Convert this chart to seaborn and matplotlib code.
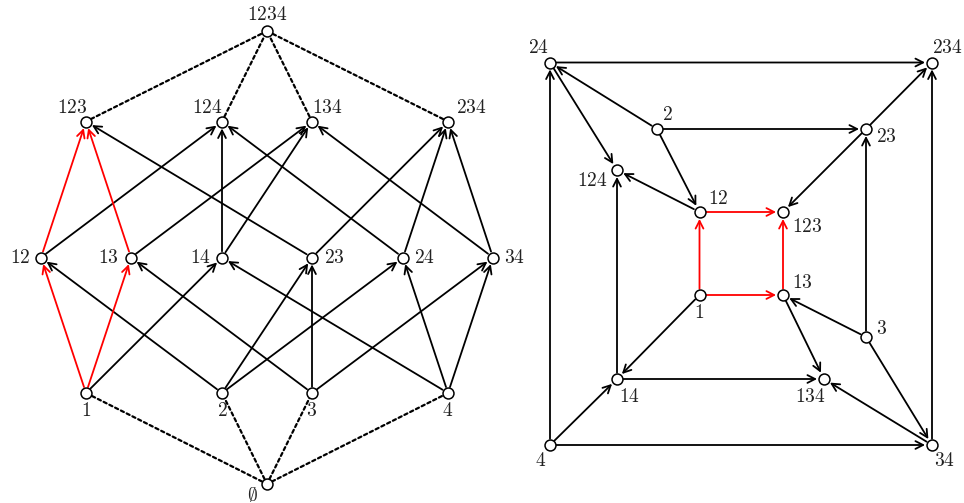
import pandas as pd
import seaborn as sns
import matplotlib.pyplot as plt

# Panel izquierdo: diagrama de Hasse de los subconjuntos de {1,2,3,4}
left_names = ['1234', '123', '124', '134', '234',
              '12', '13', '14', '23', '24', '34',
              '1', '2', '3', '4', 'empty']
left_x = [267, 86, 222, 312, 448,
          41, 131, 222, 312, 403, 493,
          86, 222, 312, 448, 267]
left_y = [31, 121.5, 121.5, 121.5, 121.5,
          257.5, 257.5, 257.5, 257.5, 257.5, 257.5,
          393, 393, 393, 393, 484]

# Panel derecho: proyeccion del cubo (sin vacio ni 1234)
right_names = ['24', '234', '2', '23', '124', '12', '123',
               '1', '13', '3', '14', '134', '4', '34']
right_x = [550, 932, 657, 866, 617, 699.5, 783,
           699.5, 783, 866, 617, 824, 550, 932]
right_y = [62.5, 62.5, 129, 129, 170, 212, 212,
           295, 295, 337, 379, 379, 445, 445]

# Aristas (de subconjunto a superconjunto)
cover_edges = [('1', '12'), ('1', '13'), ('1', '14'),
               ('2', '12'), ('2', '23'), ('2', '24'),
               ('3', '13'), ('3', '23'), ('3', '34'),
               ('4', '14'), ('4', '24'), ('4', '34'),
               ('12', '123'), ('12', '124'), ('13', '123'), ('13', '134'),
               ('14', '124'), ('14', '134'), ('23', '123'), ('23', '234'),
               ('24', '124'), ('24', '234'), ('34', '134'), ('34', '234')]
red_edges = [('1', '12'), ('1', '13'), ('12', '123'), ('13', '123')]
dotted_edges = [('empty', '1'), ('empty', '2'), ('empty', '3'), ('empty', '4'),
                ('123', '1234'), ('124', '1234'), ('134', '1234'), ('234', '1234')]

# Posicion de etiquetas: (dx, dy, alineacion)
left_labels = {
    '1234': (0, -17, 'center'), '123': (1, -14, 'right'), '124': (1, -14, 'right'),
    '134': (0, -14, 'left'), '234': (8, -14, 'left'),
    '12': (-11, 0, 'right'), '13': (-12, 0, 'right'), '14': (-11, 0, 'right'),
    '23': (12, 0, 'left'), '24': (11, 0, 'left'), '34': (11, 0, 'left'),
    '1': (0, 18, 'center'), '2': (0, 17, 'center'), '3': (0, 17, 'center'),
    '4': (0, 17, 'center'), 'empty': (-15, 11, 'center'),
}
right_labels = {
    '24': (-1, -15, 'right'), '234': (0, -15, 'left'), '2': (5, -15, 'left'),
    '23': (10, 7, 'left'), '124': (-9, 11, 'right'), '12': (9, -13, 'left'),
    '123': (9, 15, 'left'), '1': (0, 17, 'center'), '13': (9, -13, 'left'),
    '3': (10, -8, 'left'), '14': (2, 17, 'left'), '134': (2, 17, 'right'),
    '4': (-4, 16, 'right'), '34': (2, 16, 'left'),
}

sns.set_style('white')
plt.rcParams['mathtext.fontset'] = 'cm'

fig = plt.figure(figsize=(9.64, 5.03), dpi=100)
ax = fig.add_axes([0, 0, 1, 1])

arrow = '->,head_length=0.55,head_width=0.28'


def draw_panel(names, xs, ys, labels, dotted):
    pos = {n: (x, y) for n, x, y in zip(names, xs, ys)}
    for a, b in dotted:
        ax.annotate('', xy=pos[b], xytext=pos[a],
                    arrowprops=dict(arrowstyle='-', color='black', lw=1.6,
                                    linestyle=(0, (1.5, 1.4)), shrinkA=4, shrinkB=4),
                    zorder=1)
    for a, b in cover_edges:
        col = 'red' if (a, b) in red_edges else 'black'
        ax.annotate('', xy=pos[b], xytext=pos[a],
                    arrowprops=dict(arrowstyle=arrow, color=col, lw=1.3,
                                    shrinkA=4.5, shrinkB=5),
                    zorder=2 if col == 'red' else 1)
    df = pd.DataFrame({'x': xs, 'y': ys})
    sns.scatterplot(data=df, x='x', y='y', ax=ax, s=62, color='white',
                    edgecolor='black', linewidth=1.1, zorder=3, legend=False)
    for n in names:
        dx, dy, ha = labels[n]
        txt = r'$\emptyset$' if n == 'empty' else '$' + n + '$'
        ax.text(pos[n][0] + dx, pos[n][1] + dy, txt, ha=ha, va='center',
                fontsize=14, color='#222222')


draw_panel(left_names, left_x, left_y, left_labels, dotted_edges)
draw_panel(right_names, right_x, right_y, right_labels, [])

ax.set_xlim(0, 964)
ax.set_ylim(503, 0)
ax.axis('off')

fig.savefig('out.png', dpi=100)
